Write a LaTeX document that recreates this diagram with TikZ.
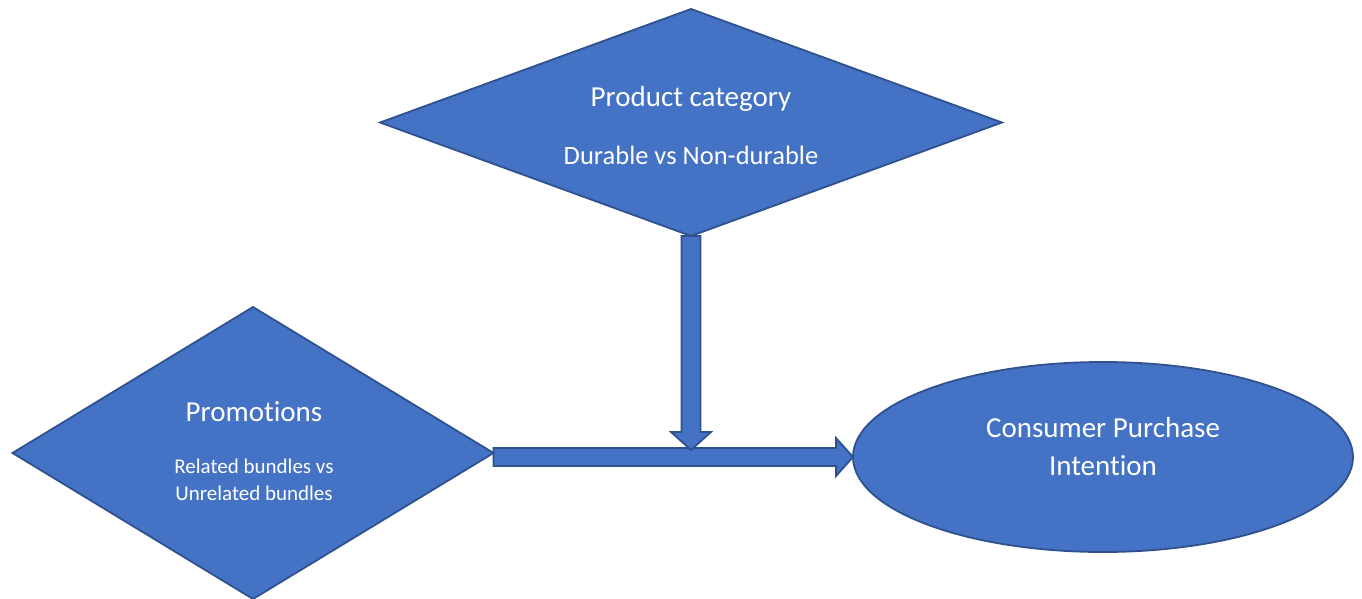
\documentclass[tikz,border=0pt]{standalone}
\usepackage{fontspec}
\setmainfont{Carlito}[Ligatures={NoCommon}]
\usetikzlibrary{shapes.geometric,calc}
\definecolor{fillblue}{HTML}{4472C4}
\definecolor{edgeblue}{HTML}{2F528F}
\begin{document}
\begin{tikzpicture}[x=1pt,y=-1pt,
  shapebox/.style={draw=edgeblue,fill=fillblue,line width=1.8pt,inner sep=0pt,outer sep=0pt},
  dia/.style={shapebox,diamond},
  oval/.style={shapebox,ellipse},
  lbl/.style={text=white,inner sep=0pt,align=center},
  big/.style={lbl,font=\fontsize{29}{38}\selectfont},
  mid/.style={lbl,font=\fontsize{26.5}{32}\selectfont},
  small/.style={lbl,font=\fontsize{21}{26.5}\selectfont},
  blockarrow/.style={draw=edgeblue,fill=fillblue,line width=1.8pt,line join=miter}]
\useasboundingbox (0,0) rectangle (1362,599);
% shapes
\node[dia,minimum width=622pt,minimum height=227pt] (pc) at (691,122.5) {};
\node[dia,minimum width=481pt,minimum height=292pt] (pr) at (253,453) {};
\node[oval,minimum width=500pt,minimum height=190pt] (cpi) at (1103,457) {};
% labels
\node[big] (pct) at (691,98.5) {Product category};
\node[mid] (pcs) at (691,155.5) {Durable vs Non-durable};
\node[big] (prt) at (254,411.5) {Promotions};
\node[small] (prs) at (254,480) {Related bundles vs\\Unrelated bundles};
\node[big] (cpit) at (1103,446.5) {Consumer Purchase\\Intention};
% horizontal block arrow: promotions -> consumer purchase intention
\coordinate (hs) at (pr.east |- cpi.west);
\draw[blockarrow] let \p1=(hs), \p2=(cpi.west) in
  (\x1,\y2-9) -- (\x2-17,\y2-9) -- (\x2-17,\y2-19) -- (\x2,\y2)
  -- (\x2-17,\y2+19) -- (\x2-17,\y2+9) -- (\x1,\y2+9) -- cycle;
% vertical block arrow: product category -> horizontal arrow
\coordinate (yref) at (0,450);
\coordinate (vt) at (pc.south |- yref);
\draw[blockarrow] let \p1=(pc.south), \p2=(vt) in
  (\x1-9.5,\y1) -- (\x1+9.5,\y1) -- (\x1+9.5,\y2+18) -- (\x1+20,\y2+18) -- (\x2,\y2)
  -- (\x1-20,\y2+18) -- (\x1-9.5,\y2+18) -- cycle;
\end{tikzpicture}
\end{document}
